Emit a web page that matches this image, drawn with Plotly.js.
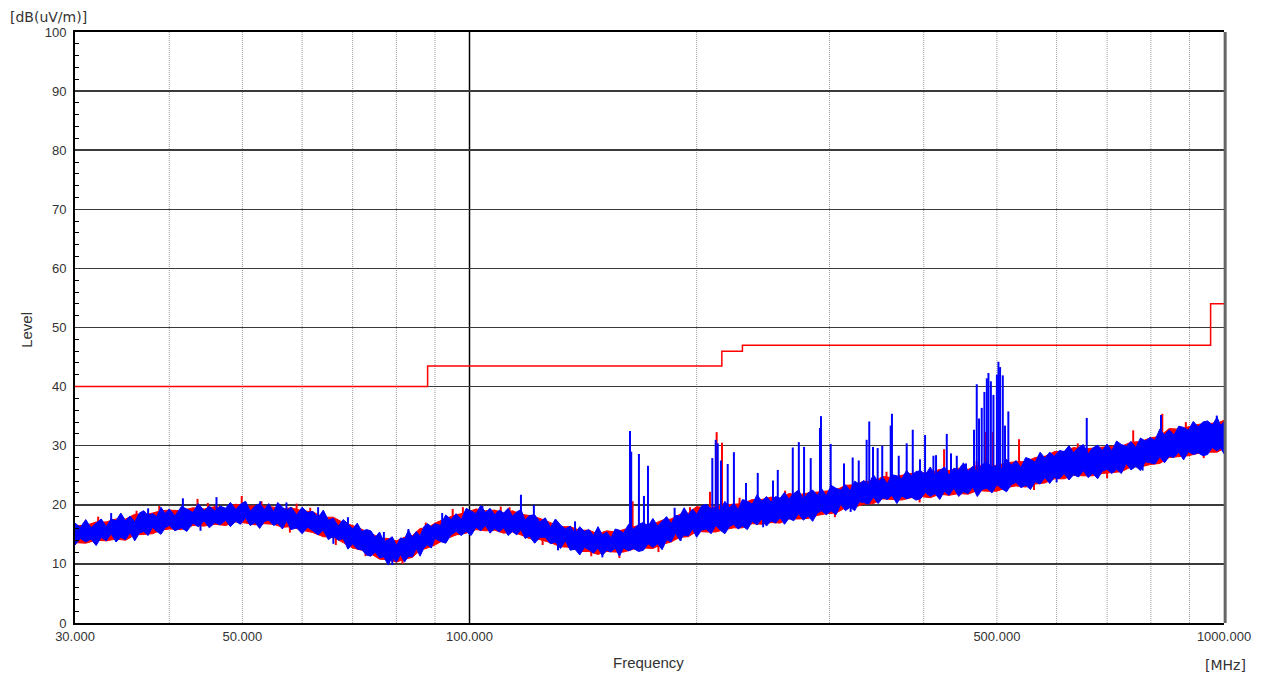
<!DOCTYPE html>
<html>
<head>
<meta charset="utf-8">
<script src="https://cdn.plot.ly/plotly-3.0.1.min.js"></script>
<style>html,body{margin:0;padding:0;background:#fff;}#chart{width:1266px;height:675px;}</style>
</head>
<body>
<div id="chart"></div>
<script>
// ---- Data (MHz / dB(uV/m)) ----
// Blue trace: dense band, upper and lower edge
const blueFreq = [30,30.5,31,31.5,32,32.5,33,33.5,34,34.5,35,35.5,36,36.5,37,37.5,38,38.5,39,39.5,
  40,40.7,41.5,42.2,43,43.7,44.5,45.2,46,46.7,47.5,48.2,49,49.7,50.5,51.2,52,52.7,53.5,54.2,
  55,55.7,56.5,57.2,58,59,60,61,62,63,64,65,66,67,68,69,70,71,72,73,
  74,75,76,77,78,79,80,81,82,83,84,85,86,87,88,89,90,91.5,93,94.5,
  96,97.5,99,100.5,102,103.5,105,106.5,108,109.5,111,112.5,114,115.5,117,118.5,120,122,124,126,
  128,130,132,134,136,138,140,142,144,146,148,150,152,154,156,158,160,162.5,165,167.5,
  170,172.5,175,177.5,180,182.5,185,187.5,190,192.5,195,197.5,200,203,206,209,212,215,218,221,
  224,227,230,233.5,237,240.5,244,247.5,251,254.5,258,261.5,265,269,273,277,281,285,289,293,
  297,301.5,306,310.5,315,319.5,324,328.5,333,338,343,348,353,358,363,368.5,374,379.5,385,390.5,
  396,402,408,414,420,426,432,438.5,445,451.5,458,464.5,471,478,485,492.5,500,507.5,515,522.5,
  530,538,546,554,562,570.5,579,587.5,596,605,614,623,632,641.5,651,660.5,670,680,690,700,
  710,720.5,731,742,753,764,775,786.5,798,810,822,834,846,858.5,871,884,897,910.5,924,937.5,
  951,965,979,990,1000];

const blueHi = [16.9,16.2,17.5,16.1,16.9,17.6,16.3,17.6,17.3,18.6,17.3,18.1,17.1,18.6,19.0,18.2,18.5,18.0,19.6,18.5,
  19.3,18.1,19.7,19.3,18.7,20.2,19.0,19.8,18.9,19.8,19.4,20.4,19.2,20.1,20.6,18.9,19.8,20.2,19.2,20.2,
  18.8,20.4,19.6,19.0,19.6,18.3,19.6,18.7,18.9,17.8,19.1,17.4,17.7,16.4,17.5,16.8,15.9,16.9,15.5,15.8,
  15.6,14.5,15.4,13.7,14.1,14.6,13.1,14.4,14.2,15.7,14.5,15.5,14.7,16.3,16.8,16.3,16.8,16.5,18.3,17.5,
  18.5,17.5,19.4,19.0,18.5,19.9,18.7,19.4,18.3,19.1,18.6,19.4,18.1,18.8,19.2,17.4,18.2,18.3,17.1,17.8,
  16.2,17.6,16.6,15.9,16.4,15.1,16.3,15.5,15.8,14.8,16.3,14.9,15.4,14.4,15.9,15.7,15.2,16.7,15.9,16.7,
  17.0,16.4,17.7,16.4,17.2,18.0,16.8,18.2,18.1,19.5,18.3,19.3,18.4,19.8,20.1,19.3,19.6,19.0,20.6,19.5,
  20.3,19.2,20.9,20.6,20.1,21.7,20.6,21.4,20.5,21.4,21.1,22.1,21.0,21.9,22.5,20.9,22.0,22.5,21.6,22.7,
  21.5,23.3,22.8,22.5,23.4,22.4,24.0,23.5,24.1,23.4,25.1,23.9,24.6,23.6,25.1,24.9,24.4,25.8,24.9,25.6,
  25.8,25.1,26.4,25.0,25.8,26.4,25.0,26.2,25.9,27.1,25.7,26.5,25.4,26.8,27.2,26.4,26.6,26.1,27.7,26.7,
  27.5,26.3,28.0,27.7,27.2,28.9,27.9,28.9,28.2,29.2,29.0,30.0,28.8,29.7,30.2,28.6,29.6,30.1,29.2,30.3,
  29.1,30.8,30.2,29.9,30.7,29.7,31.3,30.8,31.4,30.9,32.8,31.8,32.7,31.8,33.3,33.1,32.6,34.1,33.2,34.0,
  34.2,33.5,34.8,33.4,34.1];

const blueLo = [13.2,14.3,13.7,14.2,13.1,14.5,13.9,15.1,13.7,14.5,14.1,15.3,13.9,15.2,15.5,14.8,16.2,15.5,15.0,16.1,
  16.5,15.6,16.1,15.5,16.9,16.3,17.3,16.1,17.0,16.6,17.4,16.3,17.2,16.7,17.8,16.5,17.0,16.0,17.2,17.4,
  16.5,16.9,15.9,17.3,15.8,16.1,15.1,16.2,15.6,14.9,15.7,14.1,14.7,14.0,14.3,12.5,13.4,12.5,12.4,11.5,
  11.3,12.0,11.0,11.2,9.8,11.1,10.3,11.6,10.3,11.3,11.2,12.6,11.3,12.7,13.2,12.7,14.3,13.8,13.5,14.9,
  15.5,14.8,15.5,14.8,16.2,15.6,16.5,15.2,16.0,15.4,16.1,14.8,15.5,14.9,15.8,14.3,14.7,13.5,14.5,14.5,
  13.4,13.7,12.6,13.9,12.3,12.5,11.5,12.8,12.4,11.8,12.7,11.4,12.3,12.0,12.7,11.3,12.7,12.2,12.6,12.1,
  12.3,13.4,12.8,13.4,12.4,14.1,13.7,15.2,14.0,14.9,14.7,15.9,14.5,15.7,15.9,15.1,16.5,15.7,15.1,16.3,
  16.7,15.9,16.4,15.8,17.2,16.6,17.6,16.4,17.3,16.9,17.8,16.7,17.7,17.3,18.5,17.4,18.1,17.2,18.6,19.0,
  18.3,19.0,18.3,20.1,19.0,19.6,19.0,20.5,20.4,20.1,21.3,20.2,21.2,20.9,21.6,20.2,21.5,21.0,21.3,20.8,
  21.0,22.1,21.4,21.9,20.9,22.3,21.6,22.8,21.4,22.2,21.9,23.0,21.4,22.6,22.8,22.0,23.4,22.7,22.2,23.4,
  23.8,22.9,23.3,22.6,23.9,23.5,24.6,23.6,24.7,24.4,25.3,24.2,25.1,24.7,25.8,24.6,25.3,24.4,25.7,26.0,
  25.3,26.0,25.3,27.0,25.9,26.5,25.8,27.3,27.1,26.9,28.1,27.1,28.2,28.0,28.9,27.6,29.0,28.5,28.8,28.3,
  28.5,29.7,29.1,29.6,28.6];

// Red trace: band edges (mostly hidden behind blue)
const redFreq = [30,31,32,33,34,35,36,37,38,39,
  40,41.5,43,44.5,46,47.5,49,50.5,52,53.5,
  55,56.5,58,60,62,64,66,68,70,72,
  74,76,78,80,82,84,86,88,90,93,
  96,99,102,105,108,111,114,117,120,124,
  128,132,136,140,144,148,152,156,160,165,
  170,175,180,185,190,195,200,206,212,218,
  224,230,237,244,251,258,265,273,281,289,
  297,306,315,324,333,343,353,363,374,385,
  396,408,420,432,445,458,471,485,500,515,
  530,546,562,579,596,614,632,651,670,690,
  710,731,753,775,798,822,846,871,897,924,
  951,979,1000];
const redHi = [16.5,16.5,17.1,17.1,17.6,17.6,18.4,18.3,18.6,19.0,
  19.1,19.0,19.5,19.3,19.7,19.4,20.1,19.8,19.8,19.8,
  19.6,19.3,19.5,19.0,18.8,17.9,17.9,17.0,16.5,15.9,
  15.2,14.4,14.3,13.9,14.5,14.8,16.0,16.1,16.9,17.7,
  18.3,18.7,19.3,19.0,19.1,18.6,19.0,18.4,18.2,17.7,
  17.0,16.3,16.3,15.7,15.7,15.1,15.6,15.4,15.8,16.3,
  16.6,16.7,17.4,17.6,18.4,18.6,19.7,19.4,19.7,20.0,
  20.1,20.2,20.9,20.9,21.3,21.1,21.9,21.7,22.0,22.2,
  22.3,22.5,23.3,23.4,24.0,23.9,24.8,24.6,25.0,25.3,
  25.4,25.4,26.0,25.8,26.2,26.0,26.7,26.5,26.7,27.1,
  27.3,27.3,28.0,28.2,29.0,29.0,29.7,29.4,29.6,29.8,
  29.9,29.9,30.6,30.7,31.3,31.6,32.9,32.8,33.2,33.6,
  33.8,33.8,34.3];
const redLo = [13.6,13.5,14.0,13.9,14.2,14.0,14.9,15.0,15.1,15.7,
  15.9,15.8,16.5,16.4,16.7,16.5,17.1,16.9,16.6,16.8,
  16.7,16.2,16.3,15.7,15.3,14.6,14.5,13.6,12.7,12.3,
  11.7,10.8,10.7,10.3,10.8,11.1,12.3,12.7,13.2,14.2,
  14.9,15.2,15.8,15.6,15.7,15.2,15.4,14.9,14.3,14.1,
  13.6,12.9,12.8,12.1,12.1,11.6,12.1,12.0,12.0,12.5,
  12.7,12.6,13.3,13.7,14.5,14.6,15.5,15.4,15.4,15.8,
  16.1,16.1,16.8,16.7,17.0,16.9,17.6,17.6,17.7,18.2,
  18.5,18.6,19.5,19.6,20.1,20.2,21.0,20.9,20.8,21.2,
  21.4,21.2,21.8,21.6,21.9,21.8,22.4,22.3,22.3,22.9,
  23.2,23.0,23.5,23.7,24.4,24.4,25.0,24.9,24.9,25.3,
  25.5,25.6,26.4,26.4,26.8,27.0,28.0,28.2,28.3,28.7,
  28.9,28.9,29.5];

// Narrow-band emissions and noise whiskers (frequency, peak level, level of the band under it)
const blueSpikeFreq = [33.5,37.5,41.7,44,46.2,52.8,57.2,63,66,69,77,79,83,92,104,117,121.7,131,138,150,
  163.2,163.8,167.7,170.3,172.4,187,190.5,209.8,212,213.3,215.4,219.9,224.1,232.5,241,245,252.5,256.2,
  268.2,273.2,277.6,283.3,291.4,292.3,301.1,313.6,320,322,328,336,338.7,342.6,347.5,352.4,361.6,363,
  370.6,379.7,386.8,395.4,401.6,412,415.3,429.1,434.7,442.4,449,455,466.3,470.2,473.5,477.4,481.3,484.9,487.3,490.9,
  494.8,500,502.4,504.9,509.1,512.6,517.8,600,657.8,780,825,978.2];
const blueSpikePeak = [18.6,19.4,21.1,15.6,21.3,20.6,20.4,19.6,13.4,17.9,15.4,9.8,15.9,18.6,19.8,21.7,20.0,12.3,17.2,11.1,
  32.5,29.0,28.6,21.5,26.6,19.5,13.9,27.9,31.0,30.4,27.5,26.9,28.9,23.7,25.4,16.2,24.1,25.9,
  29.7,30.6,29.8,27.9,33.0,35.0,30.3,27.0,18.8,28.0,27.5,31.0,34.1,29.8,29.6,30.0,33.4,35.4,
  28.3,30.4,32.7,27.7,31.8,28.3,28.4,32.0,28.7,28.3,26.6,27.0,32.7,40.4,34.6,36.4,39.1,41.4,42.3,40.9,
  38.6,42.0,44.2,43.3,41.9,33.4,35.8,23.8,34.7,25.8,35.2,35.1];
const blueSpikeBase = [16,17.5,18.5,17,19,19,18.5,17.5,15,15.5,13,12,14,16.5,18,17.5,17,14,15,13,
  15,15,15,15.5,15.5,17,15.5,18,18,18,18,18.5,18.5,19,19.5,18,20,20,
  20.5,20.5,20.5,21,21,21,21.5,22,20.5,22,22.5,23,23,23,23,23,23.5,23.5,
  23.5,24,24,24,24.5,24.5,24.5,25,25,25,25,25,25,25,25,25,25,25,25,25,
  25,25,25,25,25.5,25.5,25.5,25.5,28,27.5,30,32];

const redSpikeFreq = [32.2,36.2,38.8,43.6,45,49.9,53,57.8,59,61.5,66.5,72.8,78,81.5,87.5,95,98,110,113,125,
  145,158,164.5,178,196,208.3,212.6,216.1,228,262,305,357,395,425.6,470,483,493.9,535,560,640,
  700,758,828.4,890,940];
const redSpikePeak = [18.0,19.0,19.8,21.0,20.3,21.5,20.6,15.3,20.2,19.5,13.2,11.3,10.0,10.0,17.0,19.3,19.6,19.7,19.6,13.2,
  11.3,11.0,20.6,12.0,19.6,22.2,32.3,30.5,21.2,22.4,17.9,25.6,20.4,29.4,27.4,32.3,32.3,31.1,22.5,30.4,
  24.5,32.6,35.4,34.0,27.9];
const redSpikeBase = [16,17,18,18.5,19,19,19,16.5,18.5,18,14.5,12.5,12,11.5,15.5,17.5,18,18,18,14.5,
  12.5,13,15,13.5,18,18,18,18,19,20,19.5,24,22,25,26,25,25,26,24,29,
  26,29,30,32.5,29.5];

// Limit line
const limitFreq = [30,88,216,230,960,1000];
const limitLevel = [40,43.5,46,47,54,54];

// Axis ticks / grid
const xTickVals = [30,50,100,500,1000];
const xTickText = ['30.000','50.000','100.000','500.000','1000.000'];
const minorGridFreq = [40,50,60,70,80,90,200,300,400,500,600,700,800,900];
const majorGridFreq = [100];

// ---- build ----
const RED = '#ff0000', BLUE = '#0000ff';
function spikes(f, base, peak) {
  const x = [], y = [];
  for (let i = 0; i < f.length; i++) { x.push(f[i], f[i], null); y.push(base[i], peak[i], null); }
  return {x, y};
}
const rs = spikes(redSpikeFreq, redSpikeBase, redSpikePeak);
const bs = spikes(blueSpikeFreq, blueSpikeBase, blueSpikePeak);

const traces = [
  {x: redFreq, y: redLo, mode: 'lines', line: {color: RED, width: 1}, hoverinfo: 'skip'},
  {x: redFreq, y: redHi, mode: 'lines', line: {color: RED, width: 1}, fill: 'tonexty', fillcolor: RED, hoverinfo: 'skip'},
  {x: rs.x, y: rs.y, mode: 'lines', line: {color: RED, width: 2}, connectgaps: false, hoverinfo: 'skip'},
  {x: blueFreq, y: blueLo, mode: 'lines', line: {color: BLUE, width: 1}, hoverinfo: 'skip'},
  {x: blueFreq, y: blueHi, mode: 'lines', line: {color: BLUE, width: 1}, fill: 'tonexty', fillcolor: BLUE, hoverinfo: 'skip'},
  {x: bs.x, y: bs.y, mode: 'lines', line: {color: BLUE, width: 2}, connectgaps: false, hoverinfo: 'skip'},
  {x: limitFreq, y: limitLevel, mode: 'lines', line: {color: RED, width: 1.5, shape: 'hv'}, hoverinfo: 'skip'}
];

const shapes = [];
minorGridFreq.forEach(f => shapes.push({type: 'line', xref: 'x', yref: 'paper', x0: f, x1: f, y0: 0, y1: 1,
  line: {color: '#999', width: 1, dash: '1px,1px'}, layer: 'below'}));
majorGridFreq.forEach(f => shapes.push({type: 'line', xref: 'x', yref: 'paper', x0: f, x1: f, y0: 0, y1: 1,
  line: {color: '#000', width: 1.5}, layer: 'below'}));
shapes.push({type: 'line', xref: 'paper', yref: 'paper', x0: 1.001, x1: 1.001, y0: 0, y1: 1,
  line: {color: '#666', width: 3}});

const FONT = 'Liberation Sans, Arial, sans-serif';
const WIDE = 'DejaVu Sans, Verdana, sans-serif';
const layout = {
  width: 1266, height: 675,
  margin: {l: 75, r: 42, t: 32, b: 52},
  paper_bgcolor: '#fff', plot_bgcolor: '#fff',
  showlegend: false,
  font: {family: FONT, size: 13, color: '#333'},
  xaxis: {
    type: 'log', range: [Math.log10(30), Math.log10(1000)],
    tickmode: 'array', tickvals: xTickVals, ticktext: xTickText,
    ticks: '', showgrid: false, zeroline: false,
    showline: true, linecolor: '#000', linewidth: 2, mirror: true,
    tickfont: {family: FONT, size: 13, color: '#333'}
  },
  yaxis: {
    range: [0, 100], tickmode: 'linear', tick0: 0, dtick: 10,
    ticks: '', showgrid: true, gridcolor: '#3a3a3a', gridwidth: 1.5,
    zeroline: false, showline: true, linecolor: '#000', linewidth: 2,
    ticklabelstandoff: 4,
    tickfont: {family: FONT, size: 13, color: '#333'},
    minor: {tickmode: 'linear', tick0: 0, dtick: 2, ticks: 'inside', ticklen: 4, tickcolor: '#000', tickwidth: 1, showgrid: false}
  },
  shapes: shapes,
  annotations: [
    {text: '[dB(uV/m)]', xref: 'paper', yref: 'paper', x: -0.0583, y: 1.0254, xanchor: 'left', yanchor: 'middle', showarrow: false, font: {family: WIDE, size: 14, color: '#333'}},
    {text: 'Level', xref: 'paper', yref: 'paper', x: -0.0418, y: 0.496, xanchor: 'center', yanchor: 'middle', textangle: -90, showarrow: false, font: {family: FONT, size: 15, color: '#333'}},
    {text: 'Frequency', xref: 'paper', yref: 'paper', x: 0.4987, y: -0.066, xanchor: 'center', yanchor: 'middle', showarrow: false, font: {family: FONT, size: 15, color: '#333'}},
    {text: '[MHz]', xref: 'paper', yref: 'paper', x: 1.0009, y: -0.0705, xanchor: 'center', yanchor: 'middle', showarrow: false, font: {family: WIDE, size: 14, color: '#333'}}
  ]
};

Plotly.newPlot('chart', traces, layout, {staticPlot: true, displayModeBar: false});
</script>
</body>
</html>
